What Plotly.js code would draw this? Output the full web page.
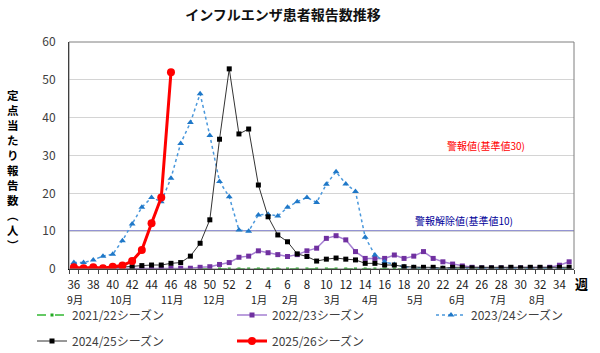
<!DOCTYPE html>
<html>
<head>
<meta charset="utf-8">
<script src="https://cdn.plot.ly/plotly-3.0.1.min.js"></script>
<style>html,body{margin:0;padding:0;background:#fff;}#chart{width:600px;height:353px;}</style>
</head>
<body>
<div id="chart"></div>
<script>
// Week numbers of the season (week 36 .. week 35 of next year)
const weeks = [36,37,38,39,40,41,42,43,44,45,46,47,48,49,50,51,52,1,2,3,4,5,6,7,8,9,10,11,12,13,14,15,16,17,18,19,20,21,22,23,24,25,26,27,28,29,30,31,32,33,34,35];

const s2021 = [0.0,0.0,0.0,0.0,0.0,0.0,0.0,0.0,0.0,0.0,0.0,0.0,0.0,0.0,0.0,0.0,0.0,0.0,0.0,0.0,0.0,0.0,0.0,0.0,0.0,0.0,0.0,0.0,0.0,0.0,0.0,0.0,0.0,0.0,0.0,0.0,0.0,0.0,0.0,0.0,0.0,0.0,0.0,0.0,0.0,0.0,0.0,0.0,0.0,0.0,0.0,0.0];
const s2022 = [0.1,0.1,0.1,0.1,0.1,0.1,0.2,0.2,0.2,0.2,0.2,0.2,0.2,0.45,0.6,1.2,1.7,3.1,3.4,4.8,4.3,3.8,3.3,3.8,4.8,5.5,8.1,8.8,7.7,4.6,2.8,2.8,2.8,3.7,2.8,3.4,4.6,2.8,1.9,1.3,0.8,0.45,0.3,0.3,0.3,0.3,0.3,0.3,0.3,0.45,1.0,1.9];
const s2023 = [1.7,1.7,2.4,3.4,3.9,7.5,11.9,16.3,18.9,17.8,24.0,33.2,38.7,46.3,35.3,23.1,19.1,10.3,10.0,14.3,14.5,14.0,16.3,17.8,18.9,17.6,22.4,25.7,22.5,20.5,8.4,3.7,1.9,1.2,0.6,0.4,0.2,0.2,0.2,0.2,0.2,0.2,0.2,0.2,0.2,0.2,0.2,0.2,0.2,0.2,0.2,0.2];
const s2024 = [0.2,0.2,0.3,0.3,0.4,0.5,0.6,0.9,1.05,1.05,1.5,1.7,3.4,6.8,13.0,34.3,52.9,35.7,37.0,22.2,13.8,9.0,7.2,4.0,3.3,2.1,2.6,2.9,2.6,2.4,1.5,1.5,1.05,1.05,0.6,0.45,0.45,0.45,0.2,0.45,0.45,0.3,0.3,0.3,0.3,0.45,0.3,0.45,0.45,0.3,0.45,0.45];
const s2025 = [0.45,0.2,0.45,0.2,0.6,0.9,2.1,5.0,12.1,18.9,52.0];

const seasonNames = ['2021/22シーズン','2022/23シーズン','2023/24シーズン','2024/25シーズン','2025/26シーズン'];

// Month labels and the week-slot they sit under
const monthLabels = ['9月','10月','11月','12月','1月','2月','3月','4月','5月','6月','7月','8月'];
const monthSlots  = [0.1,4.9,10.1,14.4,19.1,22.3,26.6,30.5,35.1,39.5,43.7,47.7];

// Reference levels
const alarmLevel = 30, alarmLabel = '警報値(基準値30)';
const clearLevel = 10, clearLabel = '警報解除値(基準値10)';

const yTitle = '定点当たり報告数︵人︶';
const chartTitle = 'インフルエンザ患者報告数推移';

const JP = '"Noto Sans CJK JP", "Noto Sans", sans-serif';
const idx = weeks.map((w,i)=>i);
const tickIdx = idx.filter(i=>i%2===0);
const tickTxt = tickIdx.map(i=>String(weeks[i]));

// plot-area pixel geometry (for converting annotation positions)
const L=69, R=26, T=42, B=84, W=600, H=353;
const pw=W-L-R, ph=H-T-B;
const px2x = p => (p-L)/pw;
const px2y = p => (H-B-p)/ph;

const traces = [
  {x: idx.slice(0,s2021.length), y: s2021, name: seasonNames[0], mode:'lines+markers',
   line:{color:'#33b833', width:1.5, dash:'dash'}, marker:{symbol:'square', size:3, color:'#22aa22'}, legend:'legend'},
  {x: idx.slice(0,s2022.length), y: s2022, name: seasonNames[1], mode:'lines+markers',
   line:{color:'#a57fd2', width:1.5}, marker:{symbol:'square', size:5, color:'#7030a0'}, legend:'legend2'},
  {x: idx.slice(0,s2023.length), y: s2023, name: seasonNames[2], mode:'lines+markers',
   line:{color:'#4a98dc', width:1.5, dash:'dot'}, marker:{symbol:'triangle-up', size:6, color:'#1f78c8'}, legend:'legend3'},
  {x: idx.slice(0,s2024.length), y: s2024, name: seasonNames[3], mode:'lines+markers',
   line:{color:'#333333', width:1}, marker:{symbol:'square', size:5, color:'#000000'}, legend:'legend4'},
  {x: idx.slice(0,s2025.length), y: s2025, name: seasonNames[4], mode:'lines+markers',
   line:{color:'#ff0000', width:3}, marker:{symbol:'circle', size:8, color:'#ff0000'}, legend:'legend5'}
];

const legFont = {family: JP, size: 12, color: '#404040'};
function leg(xp, yp){ return {x: xp/W, y: 1-yp/H, xref:'container', yref:'container', xanchor:'left', yanchor:'middle', orientation:'h', font: legFont, bgcolor:'rgba(0,0,0,0)', borderwidth:0}; }

const annotations = [];
monthLabels.forEach((m,k)=>{
  annotations.push({x: monthSlots[k], xref:'x', y: px2y(299), yref:'paper', text: m, showarrow:false,
    xanchor:'center', yanchor:'middle', borderpad:0, font:{family: JP, size: 10.5, color:'#222'}});
});
annotations.push({x: px2x(581), xref:'paper', y: px2y(283), yref:'paper', text:'週', showarrow:false,
  xanchor:'center', yanchor:'middle', font:{family: JP, size: 13, color:'#000', weight:'bold'}});
annotations.push({x: px2x(486), xref:'paper', y: alarmLevel, yref:'y', text: alarmLabel, showarrow:false,
  xanchor:'center', yanchor:'bottom', yshift:1, font:{family: JP, size: 10, color:'#ff0000'}});
annotations.push({x: px2x(464), xref:'paper', y: clearLevel, yref:'y', text: clearLabel, showarrow:false,
  xanchor:'center', yanchor:'bottom', yshift:1, font:{family: JP, size: 10, color:'#000099'}});
annotations.push({x: px2x(13), xref:'paper', y: px2y(170), yref:'paper', text: Array.from(yTitle).join('<br>'),
  showarrow:false, xanchor:'center', yanchor:'middle', align:'center',
  font:{family: JP, size: 11.5, color:'#000', weight:'bold'}});

const layout = {
  width: W, height: H,
  margin: {l:L, r:R, t:T, b:B, autoexpand:false},
  paper_bgcolor:'#fff', plot_bgcolor:'#fff',
  font: {family: JP, size: 12, color:'#404040'},
  title: {text: chartTitle, x: 283/W, xanchor:'center', xref:'container', y: 1-15/H, yref:'container', yanchor:'middle',
          font:{family: JP, size: 14, color:'#111', weight:'bold'}},
  xaxis: {range:[-0.5, weeks.length-0.5], tickmode:'array', tickvals: tickIdx, ticktext: tickTxt,
          ticks:'', showgrid:false, zeroline:false, showline:true, linecolor:'#000', linewidth:1,
          tickfont:{family: JP, size: 11.5, color:'#222'}, ticklabelstandoff: 5,
          minor:{tickmode:'linear', tick0:-0.5, dtick:1, ticks:'outside', ticklen:4, tickcolor:'#444', showgrid:false},
          fixedrange:true, automargin:false},
  yaxis: {range:[0,60], tickmode:'linear', tick0:0, dtick:10, showgrid:true, gridcolor:'#d4d4d4', gridwidth:1,
          zeroline:false, showline:true, linecolor:'#000', linewidth:1, ticks:'',
          tickfont:{family: JP, size: 12, color:'#404040'}, ticklabelstandoff: 10, fixedrange:true, automargin:false},
  shapes: [
    {type:'rect', xref:'paper', yref:'paper', x0:0, x1:1, y0:0, y1:1, line:{color:'#7f7f7f', width:1}, layer:'above'},
    {type:'line', xref:'paper', yref:'y', x0:0, x1:1, y0:alarmLevel, y1:alarmLevel, line:{color:'#ff0000', width:1}, layer:'below'},
    {type:'line', xref:'paper', yref:'y', x0:0, x1:1, y0:clearLevel, y1:clearLevel, line:{color:'#2a2aa8', width:1.5}, layer:'below'}
  ],
  annotations: annotations,
  showlegend: true,
  legend: leg(32, 315), legend2: leg(232, 315), legend3: leg(431, 315),
  legend4: leg(32, 341), legend5: leg(232, 341)
};

Plotly.newPlot('chart', traces, layout, {staticPlot:true, displayModeBar:false});
</script>
</body>
</html>
